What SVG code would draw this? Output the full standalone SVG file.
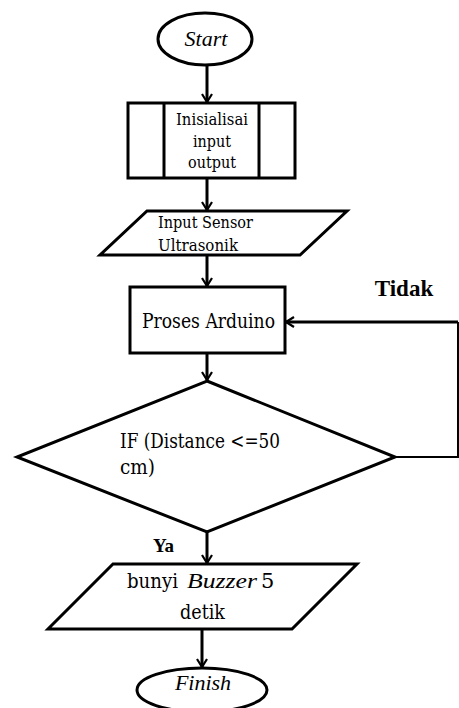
<svg xmlns="http://www.w3.org/2000/svg" width="459" height="708" viewBox="0 0 459 708">
<defs>
<marker id="arr" viewBox="0 0 10 12" refX="9" refY="6" markerWidth="10" markerHeight="12" markerUnits="userSpaceOnUse" orient="auto">
<path d="M1,1 L9,6 L1,11" fill="none" stroke="#000" stroke-width="2.2"/>
</marker>
<style>
.s{fill:#fff;stroke:#000;stroke-width:3}
.c{fill:none;stroke:#000;stroke-width:3}
.t{font-family:"Liberation Serif","Times New Roman",serif;fill:#000}
.r{font-family:"DejaVu Serif","Liberation Serif",serif;fill:#000}
</style>
</defs>
<rect width="459" height="708" fill="#fff"/>
<g id="connectors">
<line class="c" x1="207" y1="65" x2="207" y2="102" marker-end="url(#arr)"/>
<line class="c" x1="207" y1="178" x2="207" y2="210" marker-end="url(#arr)"/>
<line class="c" x1="207" y1="255" x2="207" y2="286" marker-end="url(#arr)"/>
<line class="c" x1="207" y1="353" x2="207" y2="380" marker-end="url(#arr)"/>
<polyline points="395,457 458,457 458,322" fill="none" stroke="#000" stroke-width="2"/>
<line class="c" x1="458" y1="322" x2="286" y2="322" marker-end="url(#arr)"/>
<line class="c" x1="207" y1="532" x2="207" y2="563" marker-end="url(#arr)"/>
<line class="c" x1="202" y1="629" x2="202" y2="667" marker-end="url(#arr)"/>
<text class="t" x="404" y="296" font-size="23" font-weight="bold" text-anchor="middle">Tidak</text>
<text class="t" x="153" y="552" font-size="19" font-weight="bold">Ya</text>
</g>
<g id="start">
<ellipse class="s" cx="205" cy="39" rx="47" ry="26"/>
<text class="t" x="206" y="46" font-size="22" font-style="italic" text-anchor="middle">Start</text>
</g>
<g id="init">
<rect class="s" x="128" y="103" width="167" height="75"/>
<line class="c" x1="164" y1="103" x2="164" y2="178"/>
<line class="c" x1="259" y1="103" x2="259" y2="178"/>
<text class="r" font-size="16"><tspan x="176" y="125" textLength="72" lengthAdjust="spacingAndGlyphs">Inisialisai</tspan><tspan x="193" y="147" textLength="38" lengthAdjust="spacingAndGlyphs">input</tspan><tspan x="188" y="168" textLength="48" lengthAdjust="spacingAndGlyphs">output</tspan></text>
</g>
<g id="input">
<polygon class="s" points="147,211 347,211 300,255 100,255"/>
<text class="r" font-size="17"><tspan x="158" y="228" textLength="95" lengthAdjust="spacingAndGlyphs">Input Sensor</tspan><tspan x="158" y="251" textLength="80" lengthAdjust="spacingAndGlyphs">Ultrasonik</tspan></text>
</g>
<g id="proses">
<rect class="s" x="130" y="287" width="155" height="66"/>
<text class="r" x="142" y="328" font-size="20" textLength="133" lengthAdjust="spacingAndGlyphs">Proses Arduino</text>
</g>
<g id="decision">
<polygon class="s" points="207,381 395,457 207,532 17,457"/>
<text class="r" font-size="20"><tspan x="120" y="448" textLength="160" lengthAdjust="spacingAndGlyphs">IF (Distance &lt;=50</tspan><tspan x="120" y="474" textLength="35" lengthAdjust="spacingAndGlyphs">cm)</tspan></text>
</g>
<g id="buzzer">
<polygon class="s" points="113,564 357,564 292,629 48,629"/>
<text class="r" x="127" y="588" font-size="21" textLength="51" lengthAdjust="spacingAndGlyphs">bunyi</text>
<text class="t" x="187" y="588" font-size="22" font-style="italic" textLength="70" lengthAdjust="spacingAndGlyphs">Buzzer</text>
<text class="r" x="261" y="588" font-size="21">5</text>
<text class="r" x="180" y="619" font-size="21" textLength="45" lengthAdjust="spacingAndGlyphs">detik</text>
</g>
<g id="finish">
<ellipse class="s" cx="202" cy="690" rx="65" ry="22"/>
<text class="t" x="203" y="690" font-size="22" font-style="italic" text-anchor="middle">Finish</text>
</g>
</svg>
